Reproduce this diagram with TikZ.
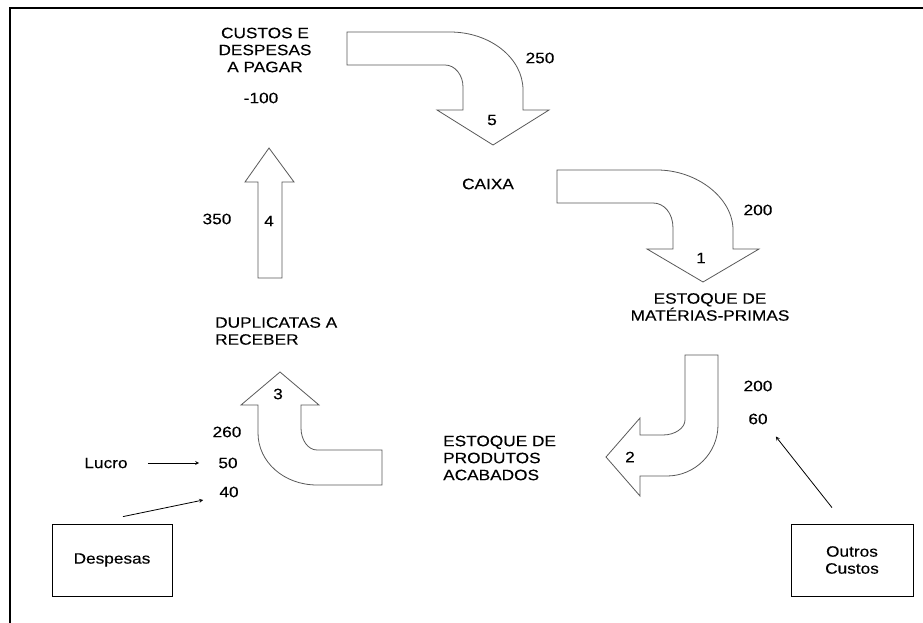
\documentclass[tikz,border=0pt]{standalone}
\usepackage{fontspec}
\setmainfont{Liberation Sans}[FakeStretch=1.15, FakeBold=0.3]
\usepackage{tikz}
\usetikzlibrary{shapes,arrows}
\usetikzlibrary{positioning}
\usetikzlibrary{calc}

\begin{document}
\begin{tikzpicture}[>=stealth, x=1pt, y=-1pt,
	every node/.style={font=\fontsize{15}{17}\selectfont, inner sep=2pt},
	blockarrow/.style={draw=black!65, line width=0.8pt, fill=white},
	caixote/.style={draw, rectangle, line width=0.8pt},
	]

	\useasboundingbox (0,0) rectangle (923,623);

	% moldura
	\draw[line width=1.6pt] (923,8) -- (10,8) -- (10,623);

	% Ciclo de caixa
	% ----------

	% seta 5: custos -> caixa
	\draw[blockarrow] (347,32) -- (450,32) .. controls (490,32) and (523,58) .. (523,90)
		-- (523,110) -- (549,110) -- (493,145) -- (437,110) -- (463,110) -- (463,87)
		.. controls (463,75) and (455,65) .. (445,65) -- (347,65) -- cycle;

	% seta 1: caixa -> materias-primas
	\draw[blockarrow] (557,170) -- (657,170) .. controls (697,170) and (733,198) .. (733,230)
		-- (733,249) -- (759,249) -- (703,282) -- (647,249) -- (673,249) -- (673,228)
		.. controls (673,213) and (664,203) .. (653,203) -- (557,203) -- cycle;

	% seta 2: materias-primas -> produtos acabados
	\draw[blockarrow] (685,355) -- (718,355) -- (718,425) .. controls (718,453) and (695,476) .. (667,476)
		-- (640,476) -- (640,496) -- (606,457) -- (640,418) -- (640,435) -- (663,435)
		.. controls (675,435) and (685,428) .. (685,420) -- cycle;

	% seta 3: produtos acabados -> duplicatas
	\draw[blockarrow] (280,372) -- (319,405) -- (301,405) -- (301,428) .. controls (301,440) and (308,450) .. (317,450)
		-- (382,450) -- (382,485) -- (317,485) .. controls (284,485) and (258,462) .. (258,433)
		-- (258,405) -- (241,405) -- cycle;

	% seta 4: duplicatas -> custos
	\draw[blockarrow] (269,148) -- (294,182) -- (282,182) -- (282,278) -- (258,278) -- (258,182) -- (245,182) -- cycle;

	% numeros das setas
	\node (n5) at (492,120) {5};
	\node (n1) at (701,258) {1};
	\node (n2) at (630,457) {2};
	\node (n3) at (278,394) {3};
	\node (n4) at (269,221) {4};

	% contas
	\node[align=center] (custos) at (265,50) {CUSTOS E\\DESPESAS\\A PAGAR};
	\node (m100) at (261,98) {-100};
	\node (caixa) at (488,184) {CAIXA};
	\node[align=center] (estMP) at (710,307) {ESTOQUE DE\\MATÉRIAS-PRIMAS};
	\node[align=left, anchor=west] (estPA) at (441,458) {ESTOQUE DE\\PRODUTOS\\ACABADOS};
	\node[align=left, anchor=west] (duplic) at (213,331) {DUPLICATAS A\\RECEBER};

	% valores
	\node (v250) at (540,58) {250};
	\node (v200a) at (758,210) {200};
	\node (v200b) at (758,386) {200};
	\node (v60) at (758,419) {60};
	\node (v350) at (217,219) {350};
	\node (v260) at (227,432) {260};
	\node (v50) at (228,463) {50};
	\node (v40) at (229,492) {40};

	% entradas de fora
	\node (lucro) at (106,463) {Lucro};
	\node[caixote, minimum width=120pt, minimum height=72pt] (despesas) at (112,560) {Despesas};
	\node[caixote, minimum width=122pt, minimum height=72pt, align=center] (outros) at (852,560) {Outros\\Custos};

	\draw[->, line width=0.8pt, shorten <=18pt, shorten >=17pt] (lucro) -- (v50);
	\draw[->, line width=0.8pt] ([xshift=11pt,yshift=7pt]despesas.north) -- ([xshift=-14pt,yshift=-8pt]v40.west);
	\draw[->, line width=0.8pt] ([xshift=-20pt,yshift=16pt]outros.north) -- ([xshift=6pt,yshift=-10pt]v60.south east);

\end{tikzpicture}
\end{document}
